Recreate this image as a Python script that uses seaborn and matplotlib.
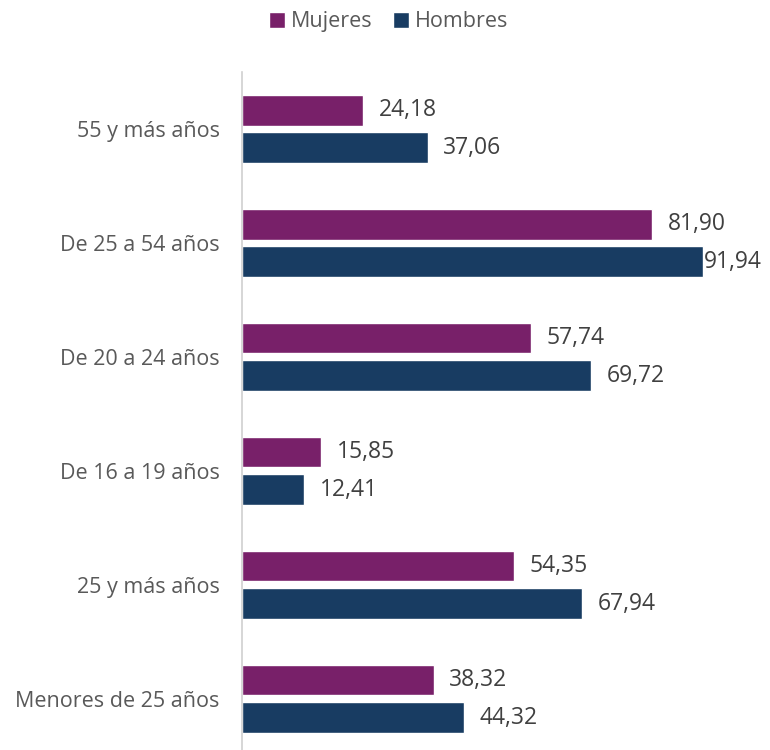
import pandas as pd
import matplotlib.pyplot as plt
import seaborn as sns

# datos
grupos = ['55 y más años', 'De 25 a 54 años', 'De 20 a 24 años',
          'De 16 a 19 años', '25 y más años', 'Menores de 25 años']
mujeres = [24.18, 81.90, 57.74, 15.85, 54.35, 38.32]
hombres = [37.06, 91.94, 69.72, 12.41, 67.94, 44.32]
series = ['Mujeres', 'Hombres']
colores = ['#782069', '#183C62']

df = pd.DataFrame({
    'grupo': grupos * 2,
    'valor': mujeres + hombres,
    'sexo': ['Mujeres'] * len(grupos) + ['Hombres'] * len(grupos),
})

sns.set_style('white')
plt.rcParams['font.family'] = ['Open Sans', 'DejaVu Sans']

fig = plt.figure(figsize=(7.7, 7.5), dpi=100)
ax = fig.add_axes([242 / 770, 0, 501 / 770, 678 / 750])

sns.barplot(data=df, y='grupo', x='valor', hue='sexo', order=grupos,
            hue_order=series, palette=colores, orient='h',
            width=0.66, gap=0.18, ax=ax, saturation=1)

# etiquetas de valor con coma decimal
maximo = max(mujeres + hombres)
for cont, vals in zip(ax.containers, [mujeres, hombres]):
    anns = ax.bar_label(cont, labels=[f'{v:.2f}'.replace('.', ',') for v in vals],
                        padding=11, fontsize=16.5, color='#404040')
    # la barra mas larga lleva la etiqueta pegada (como en excel)
    for a, v in zip(anns, vals):
        if v == maximo:
            a.set_position((1, 0))

ax.set_xlim(0, 100)
ax.set_ylim(5.45, -0.5)
ax.set_xlabel('')
ax.set_ylabel('')
ax.set_xticks([])
ax.tick_params(axis='y', length=0, pad=16, labelsize=15.5, labelcolor='#595959')
for s in ['top', 'right', 'bottom']:
    ax.spines[s].set_visible(False)
ax.spines['left'].set_color('#D0D0D0')
ax.spines['left'].set_linewidth(1.2)

ax.legend(loc='upper center', bbox_to_anchor=(0.5 - 104 / 501, 758 / 678),
          ncol=2, frameon=False, fontsize=15.5, handlelength=0.75, handleheight=0.75,
          handletextpad=0.25, columnspacing=0.95, labelcolor='#595959')

fig.savefig('out.png', dpi=100)
